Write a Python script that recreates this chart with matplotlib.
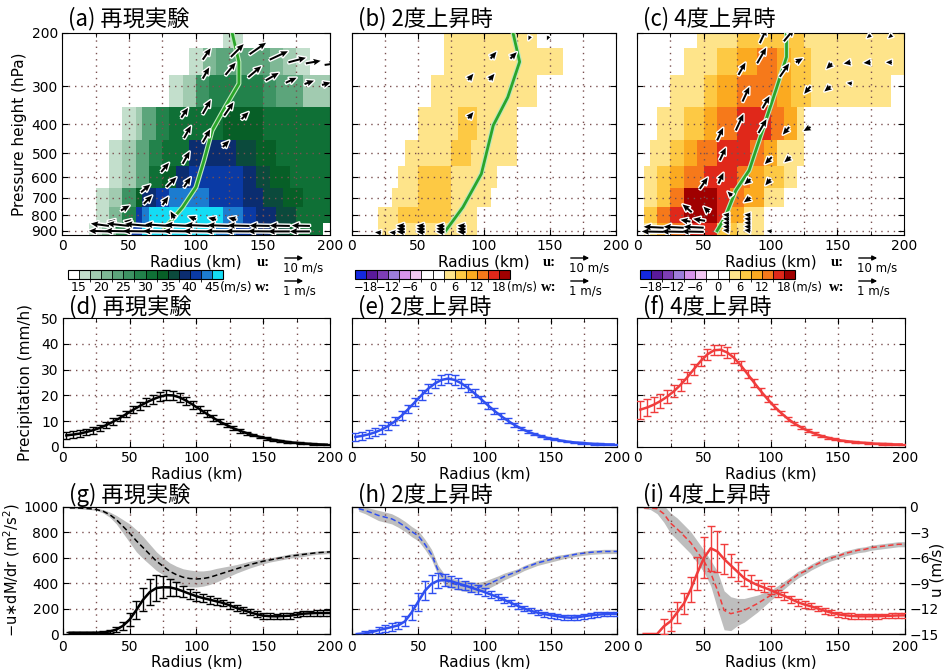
import numpy as np
import matplotlib
matplotlib.use('Agg')
import matplotlib.pyplot as plt
import matplotlib.colors as mcolors
import matplotlib.patheffects as pe
from matplotlib.patches import FancyArrowPatch
from matplotlib.ticker import MultipleLocator, NullLocator

plt.rcParams['font.family'] = ['DejaVu Sans']
plt.rcParams['font.size'] = 10
JP = ['Noto Sans CJK JP', 'DejaVu Sans']

# ---------------- cross sections (a)-(c) ----------------
# rows: pressure levels top->bottom, columns: 5 km radial cells 0-200 km
p_levels = [200, 250, 300, 400, 500, 600, 700, 800, 900]
p_ticks = [200, 300, 400, 500, 600, 700, 800, 900]
p_edges = [200, 225, 275, 350, 450, 550, 650, 750, 850, 930]
r_edges = np.arange(0, 201, 5)

# tangential wind (a): code -> m/s
wind_val = {'1': 16, '2': 18.5, '3': 21, '4': 23.5, '5': 26, '6': 28.5, '7': 31,
            '8': 33.5, '9': 36, 'a': 38.5, 'b': 41, 'c': 43.5, 'd': 47}
a_grid = [
    "........................111.............",
    "...................113344444444332211...",
    "................112255666666665544442222",
    ".........1124466777777778888887777777777",
    ".......112244667777aaaaaaa99988877777777",
    ".......1122447788aabbbbbbbbaa99888777777",
    ".....1122558aabbccccccbbbbbaaa9998887777",
    ".....113366bcdddddddddddcccbbaaa99977777",
    "....113366bbdddddddddddcccbbaaa99977777.",
]
# wind difference (b), (c): code -> m/s
diff_val = {'1': 4.5, '2': 7.5, '3': 10.5, '4': 13.5, '5': 16.5, '6': 20}
b_grid = [
    "..............11111111111111............",
    "..............111111111111111111........",
    "............1111111111111111............",
    "..........111111222111111...............",
    "........11111112221111111...............",
    ".......111222221111111..................",
    "......111122222111111...................",
    "....111222222221111.....................",
    "....111111111111111.....................",
]
c_grid = [
    ".........1111112222222222111111111111111",
    ".......111112223334443322211111111111111",
    ".....111112233344444433222111111111111..",
    "...1111222334445555544331...............",
    "..11122334445555544331111...............",
    ".11223344455555443322211................",
    ".112244666665544333111..................",
    ".224455666665533111.....................",
    ".113344555552221111.....................",
]

# radius of maximum wind (green line)
a_rmw_r = [77, 90, 100, 106, 112, 122, 132, 132, 127]
a_rmw_p = [880, 753, 646, 527, 420, 350, 294, 249, 200]
b_rmw_r = [71, 84, 98, 107, 118, 127, 122]
b_rmw_p = [900, 753, 584, 404, 326, 249, 200]
c_rmw_r = [60, 66, 74, 84, 94, 104, 112, 112]
c_rmw_p = [900, 813, 663, 569, 420, 309, 240, 200]

# secondary circulation vectors (u in m/s, w in m/s)
a_qr = [105, 126, 140, 155, 169, 182, 196, 105, 122, 139, 152, 167, 181, 194,
        89, 105, 121, 134, 91, 105, 120, 90, 74, 59, 78, 91, 44, 61, 75,
        84, 100, 115, 130, 40, 52]
a_qp = [245, 240, 235, 245, 250, 252, 255, 283, 275, 280, 287, 292, 295, 297,
        381, 370, 375, 385, 445, 460, 476, 541, 576, 672, 646, 646, 772, 734, 740,
        820, 825, 828, 828, 845, 845]
a_qu = [4.0, 6.4, 8.2, 9.1, 8.7, 7.4, 5.9, 3.25, 5.1, 6.5, 6.5, 5.4, 4.7, 4.3,
        3.4, 4.0, 4.6, 3.5, 3.5, 3.75, 3.2, 3.5, 3.9, 4.6, 4.95, 3.4, 4.3, 4.2, 2.9,
        -2.0, -3.8, -3.9, -3.9, -3.9, -3.9]
a_qw = [0.57, 0.64, 0.57, 0.42, 0.23, 0.13, 0.08, 0.56, 0.61, 0.55, 0.38, 0.25, 0.17, 0.12,
        0.49, 0.69, 0.66, 0.35, 0.61, 0.65, 0.32, 0.61, 0.46, 0.39, 0.49, 0.49, 0.25, 0.42, 0.41,
        0.35, 0.14, 0.10, 0.10, 0.07, 0.07]
# low-level inflow layer (a)
a_in_r = [35, 50, 65, 80, 95, 110, 125, 140, 155, 170, 185,
          35, 50, 65, 80, 95, 110, 125, 140, 155, 170, 185]
a_in_p = [868] * 11 + [905] * 11
a_in_u = [-9, -11, -12, -12, -12, -12, -11, -11, -10, -10, -9,
          -10, -12, -13, -13, -13, -13, -12, -12, -11, -11, -10]
a_in_w = [0.12, 0.12, 0.1, 0.08, 0.06, 0.05, 0.04, 0.03, 0.02, 0.02, 0.02,
          0.03, 0.03, 0.02, 0.02, 0.02, 0.02, 0.01, 0.01, 0.01, 0.0, 0.0]

b_qr = [105, 120, 88, 104, 88, 135, 149, 40, 55, 70, 86, 40, 55, 70, 86, 40, 55, 70, 86, 22, 33]
b_qp = [243, 243, 286, 286, 383, 205, 205, 870, 870, 870, 870, 890, 890, 890, 890,
        910, 910, 910, 910, 915, 915]
b_qu = [2.9, 3.2, 2.6, 2.6, 2.6, -0.9, -0.9, -4, -4, -4, -4, -4, -4, -4, -4,
        -4, -4, -4, -4, -3, -3]
b_qw = [0.34, 0.32, 0.31, 0.31, 0.31, -0.2, -0.2, 0.03, 0.03, 0.03, 0.03, 0.03, 0.03, 0.03, 0.03,
        0.03, 0.03, 0.03, 0.03, 0.03, 0.03]

c_qr = [92, 110, 90, 107, 119, 76, 146, 160, 175, 191, 161, 130, 145, 175, 191,
        79, 94, 74, 91, 114, 130, 60, 62, 101, 115, 47, 61, 85, 100, 71, 85, 41, 54, 51, 40]
c_qp = [216, 213, 252, 279, 250, 275, 252, 250, 250, 250, 294, 300, 300, 203, 203,
        337, 355, 420, 428, 409, 409, 453, 527, 514, 514, 655, 629, 608, 608, 690, 700,
        782, 782, 835, 840]
c_qu = [3.4, 5.1, 4.5, 4.6, 3.5, 3.5, -2.8, -3.4, -3.5, -3.0, -2.5, -3.2, -3.1, -1.9, -1.9,
        3.4, 3.5, 3.8, 4.0, -3.2, -3.5, 3.0, 3.0, -3.5, -3.1, 4.0, 2.5, -3.1, -2.6, -2.1, -3.3,
        -4.6, -2.8, -5.9, -4.9]
c_qw = [0.73, 0.61, 0.78, 0.66, 0.2, 0.61, -0.28, -0.06, -0.03, 0.0, 0.04, -0.38, -0.26, -0.16, -0.16,
        0.73, 0.61, 0.82, 0.69, -0.38, -0.2, 0.63, 0.63, -0.35, -0.26, 0.57, 0.54, -0.26, -0.31,
        0.21, -0.23, 0.39, 0.28, 0.10, 0.09]
c_in_r = [20, 35, 50, 20, 35, 50, 69, 69, 69, 69, 69, 85, 85, 85, 85, 85, 101]
c_in_p = [880, 880, 880, 908, 908, 908, 800, 825, 850, 875, 900, 800, 825, 850, 875, 900, 905]
c_in_u = [-10, -10, -10, -11, -11, -11, -3, -3, -3, -3, -3, -3, -3, -3, -3, -3, -2.5]
c_in_w = [0.05, 0.05, 0.05, 0.02, 0.02, 0.02, 0.03, 0.03, 0.03, 0.03, 0.03,
          0.03, 0.03, 0.03, 0.03, 0.03, 0.03]

# ---------------- precipitation (d)-(f) ----------------
r_pr = np.arange(2.5, 200, 5)
d_pr = [4.5, 4.8, 5.2, 5.8, 6.5, 7.4, 8.5, 9.8, 11.2, 12.8, 14.4, 15.9, 17.3, 18.5, 19.5,
        20.1, 20.0, 19.2, 17.9, 16.3, 14.6, 12.9, 11.3, 9.8, 8.5, 7.3, 6.3, 5.4, 4.6, 3.9,
        3.3, 2.8, 2.4, 2.0, 1.7, 1.5, 1.3, 1.1, 1.0, 0.9]
d_err = [1.3, 1.3, 1.3, 1.3, 1.3, 1.3, 1.3, 1.3, 1.3, 1.3, 1.4, 1.5, 1.6, 1.7, 1.8,
         1.8, 1.8, 1.7, 1.6, 1.5, 1.4, 1.3, 1.2, 1.0, 0.9, 0.8, 0.7, 0.6, 0.5, 0.5,
         0.4, 0.4, 0.3, 0.3, 0.3, 0.3, 0.3, 0.3, 0.3, 0.3]
e_pr = [3.9, 4.3, 4.9, 5.7, 6.8, 8.2, 10.0, 12.2, 14.7, 17.4, 20.1, 22.6, 24.6, 26.0, 26.5,
        26.0, 24.7, 22.9, 20.8, 18.5, 16.2, 14.0, 12.0, 10.2, 8.6, 7.2, 6.0, 5.0, 4.2, 3.5,
        3.0, 2.5, 2.1, 1.8, 1.6, 1.4, 1.2, 1.1, 1.0, 1.0]
e_err = [1.6, 1.6, 1.6, 1.6, 1.6, 1.6, 1.6, 1.6, 1.7, 1.7, 1.8, 1.8, 1.8, 1.8, 1.8,
         1.8, 1.7, 1.6, 1.5, 1.4, 1.3, 1.2, 1.0, 0.9, 0.8, 0.7, 0.6, 0.5, 0.5, 0.4,
         0.4, 0.3, 0.3, 0.3, 0.3, 0.3, 0.3, 0.3, 0.3, 0.3]
f_pr = [14.5, 15.3, 16.4, 17.8, 19.5, 21.6, 24.1, 27.0, 30.2, 33.3, 35.9, 37.5, 37.7, 36.6, 34.5,
        31.6, 28.3, 24.9, 21.6, 18.5, 15.7, 13.2, 11.0, 9.1, 7.6, 6.3, 5.2, 4.3, 3.6, 3.0,
        2.5, 2.2, 1.9, 1.7, 1.5, 1.3, 1.2, 1.1, 1.0, 1.0]
f_err = [3.5, 3.2, 2.9, 2.7, 2.5, 2.4, 2.3, 2.2, 2.1, 2.0, 2.0, 2.0, 2.0, 2.0, 1.9,
         1.8, 1.6, 1.5, 1.3, 1.2, 1.0, 0.9, 0.8, 0.7, 0.6, 0.5, 0.5, 0.4, 0.4, 0.3,
         0.3, 0.3, 0.3, 0.3, 0.3, 0.3, 0.3, 0.3, 0.3, 0.3]

# ---------------- -u dM/dr and u (g)-(i) ----------------
r_bt = np.arange(5, 201, 5)
g_flux = [10, 10, 10, 10, 10, 12, 20, 35, 65, 115, 190, 270, 330, 362, 368, 367, 355, 336, 316, 297,
          283, 270, 257, 244, 225, 205, 188, 171, 156, 144, 140, 139, 141, 144, 152, 160, 163, 165, 165, 165]
g_ferr = [8, 8, 8, 8, 8, 8, 15, 20, 30, 50, 70, 90, 105, 100, 85, 65, 55, 45, 40, 35,
          30, 30, 28, 26, 25, 25, 24, 24, 23, 22, 22, 22, 22, 22, 22, 22, 22, 22, 22, 22]
g_u = [-0.1, -0.1, -0.15, -0.2, -0.3, -0.5, -0.9, -1.5, -2.3, -3.1, -4.0, -4.8, -5.6, -6.4, -7.0,
       -7.6, -8.0, -8.3, -8.45, -8.5, -8.45, -8.3, -8.05, -7.8, -7.55, -7.3, -7.05, -6.8, -6.6, -6.4,
       -6.25, -6.1, -5.95, -5.8, -5.7, -5.6, -5.5, -5.4, -5.35, -5.3]
g_usd = [0.1, 0.1, 0.1, 0.1, 0.1, 0.2, 0.3, 0.5, 0.8, 1.1, 1.3, 1.3, 1.2, 1.1, 1.0, 1.0, 1.0, 1.0, 1.0, 0.95,
         0.9, 0.85, 0.8, 0.7, 0.6, 0.5, 0.45, 0.4, 0.35, 0.3, 0.25, 0.25, 0.25, 0.25, 0.25, 0.25, 0.2, 0.2, 0.2, 0.2]
h_flux = [0, 5, 15, 30, 42, 55, 68, 100, 170, 255, 340, 395, 420, 425, 415, 398, 383, 365, 348, 330,
          310, 290, 268, 245, 222, 200, 182, 168, 157, 148, 140, 132, 128, 132, 140, 147, 152, 156, 158, 158]
h_ferr = [5, 15, 20, 25, 25, 28, 30, 40, 60, 70, 75, 70, 60, 50, 45, 40, 38, 36, 34, 30,
          28, 26, 24, 22, 22, 21, 20, 20, 20, 20, 20, 20, 19, 19, 19, 18, 18, 18, 18, 18]
h_u = [-0.2, -0.4, -0.7, -1.0, -1.2, -1.4, -1.8, -2.3, -2.9, -3.4, -4.4, -5.6, -7.5, -8.6, -9.0,
       -9.2, -9.35, -9.45, -9.5, -9.3, -8.95, -8.6, -8.2, -7.9, -7.6, -7.2, -6.9, -6.6, -6.4, -6.2,
       -6.0, -5.85, -5.7, -5.55, -5.45, -5.35, -5.3, -5.25, -5.25, -5.25]
h_usd = [0.3, 0.4, 0.5, 0.6, 0.6, 0.6, 0.6, 0.6, 0.6, 0.6, 0.6, 0.6, 0.6, 0.6, 0.6, 0.6, 0.6, 0.6, 0.6, 0.55,
         0.5, 0.45, 0.4, 0.35, 0.3, 0.3, 0.3, 0.3, 0.3, 0.3, 0.3, 0.25, 0.25, 0.25, 0.25, 0.25, 0.25, 0.25, 0.25, 0.25]
i_flux = [0, 0, 0, 60, 100, 170, 240, 350, 480, 600, 675, 650, 590, 540, 490, 440, 410, 385, 365, 345,
          320, 300, 275, 250, 232, 218, 200, 183, 168, 155, 148, 142, 139, 139, 139, 140, 142, 144, 146, 147]
i_ferr = [0, 0, 0, 60, 80, 80, 80, 100, 130, 160, 175, 160, 120, 90, 75, 65, 55, 40, 35, 30,
          30, 30, 28, 26, 25, 24, 22, 22, 21, 20, 20, 20, 19, 19, 19, 18, 18, 18, 18, 18]
i_u = [-0.1, -0.1, -0.2, -0.8, -1.9, -2.6, -3.4, -4.2, -5.3, -6.4, -7.8, -9.8, -12.2, -12.6, -12.4,
       -12.2, -11.8, -11.4, -10.9, -10.4, -9.8, -9.2, -8.6, -8.0, -7.6, -7.1, -6.7, -6.3, -6.0, -5.8,
       -5.5, -5.3, -5.1, -5.0, -4.8, -4.7, -4.6, -4.5, -4.4, -4.4]
i_usd = [0.1, 0.2, 0.6, 1.0, 1.2, 1.3, 1.3, 1.3, 1.3, 1.3, 1.5, 2.2, 2.3, 2.0, 1.6, 1.4, 1.2, 1.0, 0.8, 0.6,
         0.5, 0.45, 0.4, 0.4, 0.35, 0.35, 0.35, 0.35, 0.35, 0.3, 0.3, 0.3, 0.3, 0.3, 0.3, 0.3, 0.3, 0.3, 0.3, 0.3]

titles = ['再現実験', '2度上昇時', '4度上昇時']
line_colors = ['black', '#2f4ff0', '#f03c3c']

# ---------------- colour maps ----------------
wind_bounds = [15, 17.5, 20, 22.5, 25, 27.5, 30, 32.5, 35, 37.5, 40, 42.5, 45]
wind_cmap = mcolors.ListedColormap(['#c3dfcc', '#a1cbb0', '#7eb895', '#5ca57b', '#3d9363', '#22824b',
                                    '#0f7036', '#075f27', '#0b4a3c', '#0b2d70', '#0a3aa5', '#1c7cd0'])
wind_cmap.set_under('white')
wind_cmap.set_over('#14dcf5')
wind_cmap.set_bad((0, 0, 0, 0))
wind_norm = mcolors.BoundaryNorm(wind_bounds, wind_cmap.N)

diff_bounds = [-18, -15, -12, -9, -6, -3, 0, 3, 6, 9, 12, 15, 18]
diff_cmap = mcolors.ListedColormap(['#5a1a9a', '#7d3db5', '#9e7ddb', '#d894ea', '#f3c8f3', 'white',
                                    'white', '#fee48a', '#fdc944', '#fbaa20', '#f6791a', '#e0281a'])
diff_cmap.set_under('#1428e0')
diff_cmap.set_over('#a00000')
diff_cmap.set_bad((0, 0, 0, 0))
diff_norm = mcolors.BoundaryNorm(diff_bounds, diff_cmap.N)


def decode(rows, table):
    z = [[table.get(ch, np.nan) for ch in row.ljust(40, '.')[:40]] for row in rows]
    return np.ma.masked_invalid(np.array(z, dtype=float))


W, H = 948, 669
fig = plt.figure(figsize=(W / 100, H / 100), dpi=100)


def add_ax(x0, x1, y0, y1):
    return fig.add_axes([x0 / W, 1 - y1 / H, (x1 - x0) / W, (y1 - y0) / H])


grid_kw = dict(color='#7a5050', linestyle=(0, (1, 3.5)), linewidth=1.0)
TICK = 10
LAB = 11


def style_x(ax, xpad=3):
    ax.set_xlim(0, 200)
    ax.set_xticks([0, 50, 100, 150, 200])
    ax.xaxis.set_minor_locator(MultipleLocator(25))
    ax.tick_params(which='both', direction='in', top=True, right=True, labelsize=TICK, pad=3)
    ax.tick_params(axis='x', pad=xpad)
    ax.tick_params(which='major', length=4)
    ax.tick_params(which='minor', length=3)
    for x in range(25, 200, 25):
        ax.axvline(x, zorder=1.5, **grid_kw)


def quiv(ax, r, p, u, w):
    q = ax.quiver(r, p, np.array(u) / 10.0, w, angles='uv', scale_units='inches', scale=5,
                  units='inches', width=0.02, headwidth=3.2, headlength=3.6, headaxislength=3.2,
                  color='black', zorder=6)
    q.set_path_effects([pe.Stroke(linewidth=2.0, foreground='white'), pe.Normal()])


# ---------------- top row ----------------
top_x = [(62, 330), (352, 616), (637, 904)]
cbar_x = [68, 355, 640]
grids = [decode(a_grid, wind_val), decode(b_grid, diff_val), decode(c_grid, diff_val)]
rmw = [(a_rmw_r, a_rmw_p), (b_rmw_r, b_rmw_p), (c_rmw_r, c_rmw_p)]
vec = [(a_qr, a_qp, a_qu, a_qw), (b_qr, b_qp, b_qu, b_qw), (c_qr, c_qp, c_qu, c_qw)]
letters_top = ['(a)', '(b)', '(c)']
for k in range(3):
    ax = add_ax(top_x[k][0], top_x[k][1], 33, 235)
    cmap, norm = (wind_cmap, wind_norm) if k == 0 else (diff_cmap, diff_norm)
    mesh = ax.pcolormesh(r_edges, p_edges, grids[k], cmap=cmap, norm=norm, zorder=1)
    ax.set_yscale('log')
    ax.set_ylim(930, 200)
    ax.set_yticks(p_ticks)
    ax.set_yticklabels([str(p) for p in p_ticks])
    ax.yaxis.set_minor_locator(NullLocator())
    style_x(ax)
    for p in p_ticks[1:]:
        ax.axhline(p, zorder=1.5, **grid_kw)
    ax.plot(rmw[k][0], rmw[k][1], color='#2aa52a', lw=2, zorder=5,
            path_effects=[pe.Stroke(linewidth=3.6, foreground='#bde8bd'), pe.Normal()])
    quiv(ax, *vec[k])
    if k == 0:
        quiv(ax, a_in_r, a_in_p, a_in_u, a_in_w)
        ax.set_ylabel('Pressure height (hPa)', fontsize=LAB, labelpad=3)
    else:
        ax.tick_params(labelleft=False)
        if k == 2:
            quiv(ax, c_in_r, c_in_p, c_in_u, c_in_w)
    ax.set_xlabel('Radius (km)', fontsize=LAB, labelpad=1)
    fig.text((top_x[k][0] + 6) / W, 1 - 19 / H, letters_top[k] + ' ' + titles[k],
             family=JP, fontsize=16, va='center', ha='left')

    # colour bar
    cx0 = cbar_x[k]
    cax = add_ax(cx0, cx0 + 155, 270, 279)
    cb = fig.colorbar(mesh, cax=cax, orientation='horizontal', extend='both', extendrect=True,
                      extendfrac='auto', drawedges=True)
    cb.outline.set_linewidth(0.8)
    cb.dividers.set_linewidth(0.6)
    if k == 0:
        ticks = [15, 20, 25, 30, 35, 40, 45]
        labs = [str(t) for t in ticks]
        cfs = 9
    else:
        ticks = [-18, -12, -6, 0, 6, 12, 18]
        labs = [str(t).replace('-', '\u2212') for t in ticks]
        cfs = 8.3
    cb.set_ticks(ticks)
    cb.set_ticklabels(labs)
    cb.ax.tick_params(length=0, labelsize=cfs, pad=1.5)
    fig.text((cx0 + 152) / W, 1 - 287 / H, '(m/s)', fontsize=cfs, va='center', ha='left')

    # vector keys
    kx = top_x[k][1] - 67
    fig.text(kx / W, 1 - 263 / H, 'u:', family='Liberation Serif', fontsize=10.5,
             fontweight='bold', va='center', ha='center')
    fig.text(kx / W, 1 - 287 / H, 'w:', family='Liberation Serif', fontsize=10.5,
             fontweight='bold', va='center', ha='center')
    for yy, lab in [(258, '10 m/s'), (281, '1 m/s')]:
        fig.add_artist(FancyArrowPatch(((kx + 19) / W, 1 - yy / H), ((kx + 43) / W, 1 - yy / H),
                                       transform=fig.transFigure, arrowstyle='-|>',
                                       mutation_scale=7, lw=1.0, color='black'))
        fig.text((kx + 20) / W, 1 - (yy + 10) / H, lab, fontsize=8.5, va='center', ha='left')

# ---------------- middle row ----------------
low_x = [(63, 330), (352, 617), (637, 905)]
prec = [(d_pr, d_err), (e_pr, e_err), (f_pr, f_err)]
letters_mid = ['(d)', '(e)', '(f)']
for k in range(3):
    ax = add_ax(low_x[k][0], low_x[k][1], 318, 447)
    style_x(ax)
    ax.set_ylim(0, 50)
    ax.set_yticks(range(0, 51, 10))
    for y in range(10, 50, 10):
        ax.axhline(y, zorder=1.5, **grid_kw)
    ax.errorbar(r_pr, prec[k][0], yerr=prec[k][1], color=line_colors[k], lw=1.8,
                elinewidth=1.0, capsize=3, capthick=1.0, zorder=3)
    ax.set_xlabel('Radius (km)', fontsize=LAB, labelpad=1)
    if k == 0:
        ax.set_ylabel('Precipitation (mm/h)', fontsize=LAB, labelpad=6)
    else:
        ax.tick_params(labelleft=False)
    fig.text((low_x[k][0] + 6) / W, 1 - 307 / H, letters_mid[k] + ' ' + titles[k],
             family=JP, fontsize=16, va='center', ha='left')

# ---------------- bottom row ----------------
bot = [(g_flux, g_ferr, g_u, g_usd), (h_flux, h_ferr, h_u, h_usd), (i_flux, i_ferr, i_u, i_usd)]
letters_bot = ['(g)', '(h)', '(i)']
for k in range(3):
    ax = add_ax(low_x[k][0], low_x[k][1], 507, 634)
    ax2 = ax.twinx()
    ax.set_zorder(2)
    ax.patch.set_visible(False)
    ax2.set_zorder(1)
    style_x(ax, xpad=4.5)
    ax.set_ylim(0, 1000)
    ax.set_yticks(range(0, 1001, 200))
    for y in range(200, 1000, 200):
        ax.axhline(y, zorder=1.5, **grid_kw)
    flux, ferr, u, usd = [np.array(v, dtype=float) for v in bot[k]]
    ax2.fill_between(r_bt, u - usd, u + usd, color='#bebebe', lw=0, zorder=1)
    ax2.plot(r_bt, u, color=line_colors[k], lw=1.1, ls=(0, (3.5, 2)), zorder=2)
    ax2.set_ylim(-15, 0)
    ax2.set_yticks(range(-15, 1, 3))
    ax2.set_yticklabels([str(t).replace('-', '\u2212') for t in range(-15, 1, 3)])
    ax2.tick_params(direction='in', length=4, labelsize=TICK, pad=3)
    ax.plot(r_bt, flux, color=line_colors[k], lw=1.8, zorder=3)
    m = ferr > 0
    ax.errorbar(r_bt[m], flux[m], yerr=ferr[m], fmt='none', ecolor=line_colors[k],
                elinewidth=1.0, capsize=3, capthick=1.0, zorder=3)
    ax.set_xlabel('Radius (km)', fontsize=LAB, labelpad=0)
    if k == 0:
        ax.set_ylabel('\u2212u\u2217dM/dr (m$^2$/s$^2$)', fontsize=10.5, labelpad=1)
    else:
        ax.tick_params(labelleft=False)
    if k == 2:
        fig.text(937 / W, 1 - 570 / H, 'u (m/s)', fontsize=LAB, rotation=90,
                 va='center', ha='center')
    else:
        ax2.tick_params(labelright=False)
    fig.text((low_x[k][0] + 6) / W, 1 - 495 / H, letters_bot[k] + ' ' + titles[k],
             family=JP, fontsize=16, va='center', ha='left')

fig.savefig('out.png', dpi=100)
